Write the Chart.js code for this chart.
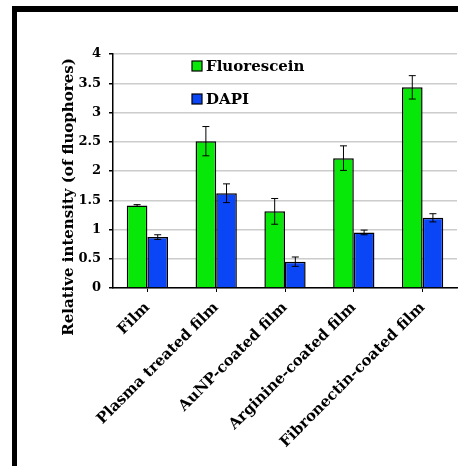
<!DOCTYPE html>
<html>
<head>
<meta charset="utf-8">
<script src="https://cdn.jsdelivr.net/npm/chart.js@4"></script>
<style>
    body { margin: 0; background: #fff; }
    #wrap { position: relative; width: 458px; height: 466px; overflow: hidden; }
    #frame { position: absolute; left: 12px; top: 6px; width: 460px; height: 480px;
             border-top: 6px solid #000; border-left: 5px solid #000; }
    #chart { position: absolute; left: 0; top: 0; }
</style>
</head>
<body>
<div id="wrap">
    <canvas id="chart" width="458" height="466"></canvas>
    <div id="frame"></div>
</div>
<script>
var categories = ['Film', 'Plasma treated film', 'AuNP-coated film', 'Arginine-coated film', 'Fibronectin-coated film'];
var fluorescein = [1.41, 2.51, 1.31, 2.22, 3.43];
var fluoresceinErr = [0.015, 0.25, 0.22, 0.21, 0.2];
var dapi = [0.87, 1.62, 0.45, 0.95, 1.2];
var dapiErr = [0.04, 0.16, 0.08, 0.04, 0.07];

var serif = "DejaVu Serif";

//error bars drawn through the y scale
var errorBars = {
    id: 'errorBars',
    afterDatasetsDraw: function(chart) {
        var ctx = chart.ctx;
        var y = chart.scales.y;
        ctx.save();
        ctx.strokeStyle = '#000';
        ctx.lineWidth = 1;
        chart.data.datasets.forEach(function(ds, i) {
            chart.getDatasetMeta(i).data.forEach(function(bar, j) {
                var v = ds.data[j], e = ds.errors[j];
                var top = y.getPixelForValue(v + e);
                var bot = y.getPixelForValue(v - e);
                ctx.beginPath();
                ctx.moveTo(bar.x, top); ctx.lineTo(bar.x, bot);
                ctx.moveTo(bar.x - 3.5, top); ctx.lineTo(bar.x + 3.5, top);
                ctx.moveTo(bar.x - 3.5, bot); ctx.lineTo(bar.x + 3.5, bot);
                ctx.stroke();
            });
        });
        ctx.restore();
    }
};

//legend inside the plot and the y title
var extras = {
    id: 'extras',
    afterDraw: function(chart) {
        var ctx = chart.ctx;
        var area = chart.chartArea;
        ctx.save();
        ctx.font = 'bold 15px "' + serif + '"';
        ctx.textBaseline = 'middle';
        chart.data.datasets.forEach(function(ds, i) {
            var ly = area.top + 12 + i * 33;
            ctx.fillStyle = ds.backgroundColor;
            ctx.fillRect(192, ly - 5, 10, 10);
            ctx.strokeStyle = '#000';
            ctx.lineWidth = 1.2;
            ctx.strokeRect(192, ly - 5, 10, 10);
            ctx.fillStyle = '#000';
            ctx.fillText(ds.label, 206, ly + 1);
        });
        ctx.translate(69, 197);
        ctx.rotate(-Math.PI / 2);
        ctx.textAlign = 'center';
        ctx.font = 'bold 15px "' + serif + '"';
        ctx.fillText('Relative intensity (of fluophores)', 0, 0);
        ctx.restore();
    }
};

new Chart(document.getElementById('chart'), {
    type: 'bar',
    data: {
        labels: categories,
        datasets: [{
            label: 'Fluorescein',
            data: fluorescein,
            errors: fluoresceinErr,
            backgroundColor: '#08e808',
            borderColor: '#000',
            borderWidth: 1.5
        }, {
            label: 'DAPI',
            data: dapi,
            errors: dapiErr,
            backgroundColor: '#0a46f5',
            borderColor: '#000',
            borderWidth: 1.5
        }]
    },
    options: {
        responsive: false,
        devicePixelRatio: 1,
        animation: false,
        categoryPercentage: 0.6,
        barPercentage: 1,
        layout: { padding: { top: 54, right: 1, left: 0, bottom: 0 } },
        plugins: {
            legend: { display: false },
            tooltip: { enabled: false }
        },
        scales: {
            x: {
                grid: {
                    offset: false,
                    drawOnChartArea: false,
                    tickLength: 4,
                    tickColor: '#000'
                },
                border: { color: '#000', width: 1.5 },
                ticks: {
                    color: '#000',
                    font: { family: serif, weight: 'bold', size: 15 },
                    minRotation: 45,
                    maxRotation: 45,
                    autoSkip: false,
                    padding: 7
                },
                afterFit: function(scale) { scale.height = 466 - 288; }
            },
            y: {
                min: 0,
                max: 4,
                ticks: {
                    stepSize: 0.5,
                    color: '#000',
                    padding: 8,
                    font: { family: serif, weight: 'bold', size: 13 },
                    callback: function(v) { return String(v); }
                },
                grid: {
                    color: '#cccccc',
                    lineWidth: 1.5,
                    tickLength: 4,
                    tickColor: '#000'
                },
                border: { color: '#000', width: 1.5 },
                afterFit: function(scale) { scale.width = 113; }
            }
        }
    },
    plugins: [errorBars, extras]
});
</script>
</body>
</html>
